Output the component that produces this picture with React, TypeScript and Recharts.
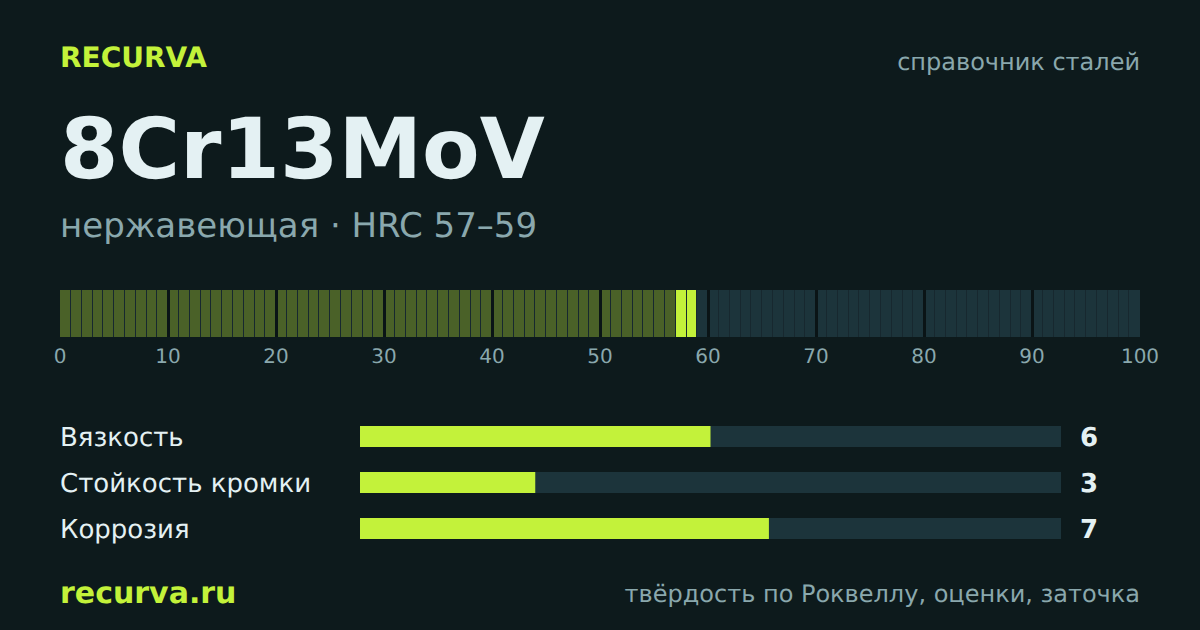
import React from "react"
import { BarChart, Bar, Cell, XAxis, YAxis, ReferenceLine, ReferenceArea, LabelList } from "recharts"

const BG = "#0d1a1c"
const LIME = "#c3f23a"
const DIM_LIME = "#4a6128"
const TRACK = "#1c343b"
const GAP = "#17282f"
const DIVIDER = "#0a1416"
const MUTED = "#8aa8ad"
const LIGHT = "#e4f1f3"
const FONT = "'DejaVu Sans', sans-serif"

const hrcPositions = [
  0, 1, 2, 3, 4, 5, 6, 7, 8, 9, 10, 11, 12, 13, 14, 15, 16, 17, 18, 19,
  20, 21, 22, 23, 24, 25, 26, 27, 28, 29, 30, 31, 32, 33, 34, 35, 36, 37, 38, 39,
  40, 41, 42, 43, 44, 45, 46, 47, 48, 49, 50, 51, 52, 53, 54, 55, 56, 57, 58, 59,
  60, 61, 62, 63, 64, 65, 66, 67, 68, 69, 70, 71, 72, 73, 74, 75, 76, 77, 78, 79,
  80, 81, 82, 83, 84, 85, 86, 87, 88, 89, 90, 91, 92, 93, 94, 95, 96, 97, 98, 99,
]
const hrcLow = 57
const hrcHigh = 59
const scaleTicks = [0, 10, 20, 30, 40, 50, 60, 70, 80, 90, 100]
const dividers = [10, 20, 30, 40, 50, 60, 70, 80, 90]

const ratingNames = ["Вязкость", "Стойкость кромки", "Коррозия"]
const ratingValues = [6, 3, 7]

const stripData = hrcPositions.map((p) => ({ pos: p + 0.5, cell: p, h: 1 }))
const ratingData = ratingNames.map((name, i) => ({ name, value: ratingValues[i] }))

const cellColor = (p: number) => {
  if (p >= hrcLow && p < hrcHigh) return LIME
  return p < hrcLow ? DIM_LIME : TRACK
}

// snap each cell to whole pixels so every gap stays one pixel wide
const SnappedCell = ({ x, y, width, height, fill, index }: any) => {
  const left = index === 0 ? Math.floor(x) : Math.floor(x - 0.4 + 1e-6) + 1
  let right = Math.floor(x + width + 0.4 + 1e-6)
  if (index === hrcPositions.length - 1) right += 1
  return (
    <rect x={left} y={y} width={right - left} height={height} fill={fill} shapeRendering="crispEdges" />
  )
}

const RatingTick = ({ y, payload }: any) => (
  <text x={60} y={y} dy={9.5} fill={LIGHT} fontSize={26} fontFamily={FONT}>
    {payload.value}
  </text>
)

const ScoreLabel = ({ y, height, value }: any) => (
  <text x={1080} y={y + height / 2 + 9.5} fill={LIGHT} fontSize={26} fontWeight="bold" fontFamily={FONT}>
    {value}
  </text>
)

export default function App() {
  return (
    <div
      style={{
        position: "fixed",
        left: 0,
        top: 0,
        width: 1200,
        height: 630,
        background: BG,
        overflow: "hidden",
        textRendering: "geometricPrecision",
      }}
    >
      <svg width={1200} height={630} style={{ position: "absolute", left: 0, top: 0 }} fontFamily={FONT}>
        <text x={60} y={67} fill={LIME} fontSize={28} fontWeight="bold">RECURVA</text>
        <text x={1140} y={70} fill={MUTED} fontSize={24} textAnchor="end">справочник сталей</text>
        <text x={60} y={178} fill={LIGHT} fontSize={84} fontWeight="bold">8Cr13MoV</text>
        <text x={60} y={237} fill={MUTED} fontSize={34}>нержавеющая · HRC 57–59</text>
        <text x={60} y={603} fill={LIME} fontSize={30} fontWeight="bold">recurva.ru</text>
        <text x={1140} y={602} fill={MUTED} fontSize={24} textAnchor="end">твёрдость по Роквеллу, оценки, заточка</text>
      </svg>

      <div style={{ position: "absolute", left: 0, top: 280 }}>
        <BarChart
          width={1200}
          height={100}
          data={stripData}
          margin={{ top: 10, right: 60, left: 60, bottom: 0 }}
        >
          <XAxis
            dataKey="pos"
            type="number"
            domain={[0, 100]}
            ticks={scaleTicks}
            interval={0}
            axisLine={false}
            tickLine={false}
            height={43}
            tickMargin={0}
            tick={{ fill: MUTED, fontSize: 20, fontFamily: FONT, dy: 6 }}
          />
          <YAxis hide domain={[0, 1]} />
          <ReferenceArea x1={0} x2={100} fill={GAP} fillOpacity={1} stroke="none" shapeRendering="crispEdges" />
          <Bar dataKey="h" barSize={10} shape={<SnappedCell />} isAnimationActive={false}>
            {stripData.map((d) => (
              <Cell key={d.cell} fill={cellColor(d.cell)} />
            ))}
          </Bar>
          {dividers.map((d) => (
            <ReferenceLine key={d} x={d} stroke={DIVIDER} strokeWidth={3} shapeRendering="crispEdges" />
          ))}
        </BarChart>
      </div>

      <div style={{ position: "absolute", left: 0, top: 413 }}>
        <BarChart
          width={1200}
          height={138}
          layout="vertical"
          data={ratingData}
          margin={{ top: 0, right: 139, left: 0, bottom: 0 }}
        >
          <XAxis type="number" hide domain={[0, 12]} />
          <YAxis
            type="category"
            dataKey="name"
            width={360}
            axisLine={false}
            tickLine={false}
            interval={0}
            tick={<RatingTick />}
          />
          <Bar
            dataKey="value"
            barSize={21}
            fill={LIME}
            background={{ fill: TRACK }}
            isAnimationActive={false}
          >
            <LabelList dataKey="value" content={<ScoreLabel />} />
          </Bar>
        </BarChart>
      </div>
    </div>
  )
}
